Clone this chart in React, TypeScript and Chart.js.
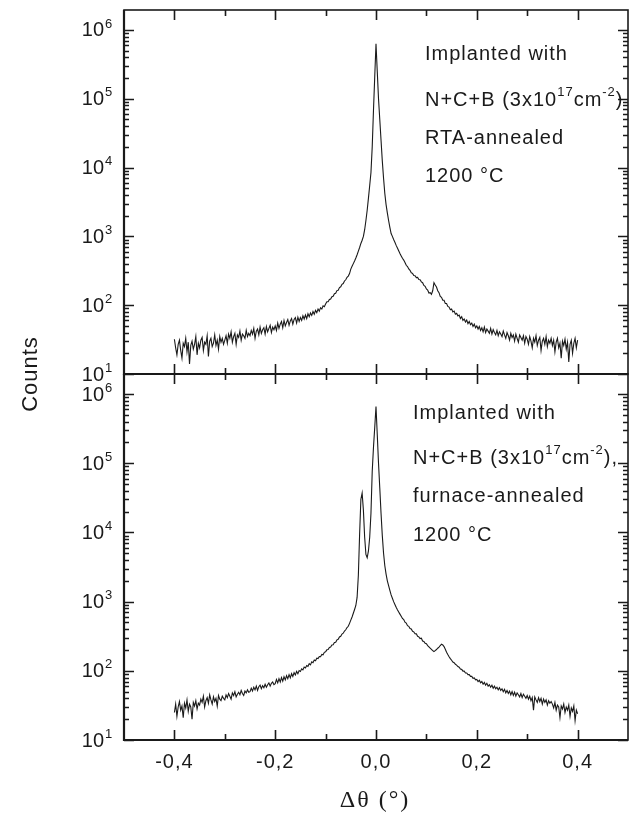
import React, { useEffect, useRef } from "react";
import { Chart, registerables } from "chart.js";
Chart.register(...registerables);

// Δθ scan grid: -0.4° … 0.4°, one reading every 0.0025° (321 readings, 20 per row below)
const thetaStart = -0.4;
const thetaStep = 0.0025;

// Top panel: RTA-annealed (each row = 0.05° of scan)
const countsRTA = [
  32, 24, 19, 27, 31, 22, 17, 28, 25, 33, 21, 29, 14, 26, 30, 23, 27, 35, 19, 28,
  24, 31, 34, 22, 29, 27, 36, 18, 30, 33, 25, 28, 37, 26, 31, 23, 35, 29, 33, 27,
  31, 36, 28, 38, 33, 41, 29, 35, 39, 27, 37, 34, 42, 31, 38, 36, 33, 43, 35, 39,
  36, 43, 38, 46, 33, 42, 45, 37, 48, 39, 44, 47, 38, 49, 41, 46, 51, 40, 48, 44,
  50, 43, 55, 46, 53, 58, 47, 60, 50, 56, 62, 51, 59, 64, 53, 62, 66, 55, 67, 58,
  66, 60, 70, 63, 72, 64, 75, 68, 77, 71, 81, 74, 84, 78, 88, 82, 92, 88, 98, 95,
  104, 112, 112, 121, 123, 133, 135, 147, 149, 163, 165, 180, 185, 201, 206, 225, 234, 254, 265, 288,
  335, 368, 402, 440, 485, 540, 610, 690, 790, 880, 1000, 1250, 1700, 2400, 3600, 5500, 8500, 20000, 68000, 210000,
  630000, 250000, 100000, 50000, 25000, 12500, 7000, 4200, 2900, 2200, 1700, 1350, 1100, 1000, 900, 820, 740, 680, 620, 565,
  520, 480, 452, 418, 380, 364, 336, 322, 296, 290, 270, 268, 252, 254, 236, 234, 218, 212, 194, 188,
  172, 166, 150, 152, 144, 162, 212, 196, 184, 162, 152, 134, 130, 118, 118, 106, 106, 96, 94, 86,
  88, 80, 82, 74, 76, 70, 72, 64, 68, 60, 63, 57, 61, 54, 58, 52, 55, 49, 53, 47,
  50, 45, 49, 43, 47, 41, 48, 40, 45, 42, 39, 46, 38, 44, 40, 37, 43, 36, 41, 38,
  35, 42, 37, 33, 40, 36, 31, 39, 34, 37, 30, 38, 33, 29, 37, 34, 31, 36, 28, 35,
  32, 27, 35, 30, 24, 33, 29, 36, 26, 31, 34, 22, 30, 33, 27, 35, 25, 31, 28, 33,
  26, 31, 21, 29, 33, 24, 28, 17, 30, 26, 32, 23, 29, 15, 27, 31, 20, 28, 33, 24,
  31,
];

// Bottom panel: furnace-annealed
const countsFurnace = [
  25, 33, 22, 30, 36, 27, 31, 21, 34, 29, 38, 26, 33, 30, 20, 35, 31, 37, 28, 34,
  32, 39, 35, 43, 30, 37, 41, 34, 45, 38, 33, 42, 36, 40, 31, 44, 39, 37, 43, 40,
  38, 45, 41, 47, 43, 39, 48, 44, 50, 42, 46, 49, 45, 52, 47, 44, 51, 48, 53, 49,
  50, 56, 51, 58, 53, 60, 52, 59, 62, 55, 61, 57, 64, 58, 63, 67, 60, 66, 69, 63,
  65, 75, 67, 77, 69, 80, 71, 82, 74, 85, 77, 88, 79, 91, 83, 94, 87, 98, 91, 101,
  98, 107, 103, 113, 110, 119, 116, 127, 122, 135, 131, 143, 140, 152, 150, 161, 160, 172, 170, 185,
  188, 201, 203, 218, 220, 236, 238, 256, 259, 280, 286, 308, 316, 340, 350, 376, 392, 422, 440, 485,
  540, 600, 680, 770, 880, 1150, 2400, 9500, 30000, 37000, 21000, 8500, 4800, 4300, 5400, 8500, 19000, 76000, 170000, 330000,
  660000, 260000, 100000, 44000, 19000, 9000, 5000, 3300, 2500, 2000, 1700, 1450, 1250, 1120, 1000, 910, 830, 765, 710, 660,
  615, 570, 550, 505, 490, 450, 440, 408, 402, 372, 366, 344, 342, 316, 310, 292, 296, 270, 266, 250,
  246, 232, 222, 212, 204, 196, 190, 196, 203, 212, 220, 232, 243, 236, 224, 205, 186, 172, 160, 150,
  142, 134, 131, 124, 121, 115, 113, 106, 105, 99, 99, 93, 93, 88, 88, 83, 83, 78, 79, 74,
  75, 70, 73, 67, 70, 64, 68, 62, 66, 60, 63, 58, 62, 56, 60, 55, 58, 53, 57, 52,
  55, 50, 54, 48, 52, 47, 51, 45, 50, 44, 49, 43, 48, 45, 42, 47, 41, 46, 43, 40,
  44, 39, 43, 37, 41, 27, 42, 38, 35, 41, 36, 40, 33, 39, 35, 38, 32, 37, 34, 36,
  33, 29, 35, 27, 32, 30, 21, 31, 28, 33, 25, 30, 27, 32, 22, 29, 26, 31, 19, 27,
  24,
];

const deltaTheta = countsRTA.map((_, i) => +(thetaStart + i * thetaStep).toFixed(4));

const xMajorTicks = [-0.4, -0.2, 0, 0.2, 0.4];
const xMajorLabels = ["-0,4", "-0,2", "0,0", "0,2", "0,4"];
const xMinorTicks = [-0.3, -0.1, 0.1, 0.3];
const yDecades = [10, 100, 1000, 10000, 100000, 1000000];
const yExponents = ["1", "2", "3", "4", "5", "6"];
const xRange = [-0.5, 0.5];
const yRange = [10, 1.95e6];

type Run = { t: string; sup?: boolean };
const notesRTA: Run[][] = [
  [{ t: "Implanted with" }],
  [{ t: "N+C+B (3x10" }, { t: "17", sup: true }, { t: "cm" }, { t: "-2", sup: true }, { t: ")" }],
  [{ t: "RTA-annealed" }],
  [{ t: "1200 °C" }],
];
const notesFurnace: Run[][] = [
  [{ t: "Implanted with" }],
  [{ t: "N+C+B (3x10" }, { t: "17", sup: true }, { t: "cm" }, { t: "-2", sup: true }, { t: ")," }],
  [{ t: "furnace-annealed" }],
  [{ t: "1200 °C" }],
];
const yTitle = "Counts";
const xTitle = "Δθ (°)";

const SANS = "'Liberation Sans', Arial, Helvetica, sans-serif";
const SERIF = "'Liberation Serif', 'Times New Roman', serif";
const INK = "#1a1a1a";

function drawRuns(ctx: CanvasRenderingContext2D, runs: Run[], x: number, y: number) {
  let cx = x;
  ctx.textAlign = "left";
  ctx.textBaseline = "middle";
  for (const r of runs) {
    if (r.sup) {
      ctx.font = `13px ${SANS}`;
      ctx.fillText(r.t, cx, y - 8);
    } else {
      ctx.font = `20px ${SANS}`;
      ctx.fillText(r.t, cx, y);
    }
    cx += ctx.measureText(r.t).width;
  }
}

function makePanelPlugin(notes: Run[][], noteX: number, noteYs: number[], bottomPanel: boolean) {
  return {
    id: "panelDecor",
    afterDraw(chart: any) {
      const ctx: CanvasRenderingContext2D = chart.ctx;
      const a = chart.chartArea;
      const xs = chart.scales.x;
      const ys = chart.scales.y;
      ctx.save();
      ctx.strokeStyle = INK;
      ctx.fillStyle = INK;
      ctx.lineCap = "butt";
      ctx.lineWidth = 1.6;
      ctx.strokeRect(a.left, a.top, a.right - a.left, a.bottom - a.top);
      ctx.lineWidth = 2.2;
      ctx.beginPath();
      ctx.moveTo(a.left, a.top);
      ctx.lineTo(a.left, a.bottom);
      ctx.lineTo(a.right, a.bottom);
      ctx.stroke();
      ctx.lineWidth = 1.6;
      const xt = (v: number, len: number) => {
        const px = Math.round(xs.getPixelForValue(v)) + 0.5;
        ctx.beginPath();
        ctx.moveTo(px, a.bottom);
        ctx.lineTo(px, a.bottom - len);
        ctx.moveTo(px, a.top);
        ctx.lineTo(px, a.top + len);
        ctx.stroke();
      };
      xMajorTicks.forEach((v) => xt(v, 10));
      xMinorTicks.forEach((v) => xt(v, 6));
      ctx.lineWidth = 1.3;
      yDecades.forEach((d) => {
        for (let m = 1; m <= 9; m++) {
          const v = d * m;
          if (v < yRange[0] || v > yRange[1]) continue;
          const py = Math.round(ys.getPixelForValue(v)) + 0.5;
          const len = m === 1 ? 10 : 5;
          ctx.beginPath();
          ctx.moveTo(a.left, py);
          ctx.lineTo(a.left + len, py);
          ctx.moveTo(a.right, py);
          ctx.lineTo(a.right - len, py);
          ctx.stroke();
        }
      });
      yDecades.forEach((d, i) => {
        const py = ys.getPixelForValue(d);
        ctx.textBaseline = "middle";
        ctx.textAlign = "right";
        ctx.font = `20px ${SANS}`;
        ctx.fillText("10", 104, py + 1);
        ctx.textAlign = "left";
        ctx.font = `13px ${SANS}`;
        ctx.fillText(yExponents[i], 105, py - 6);
      });
      (ctx as any).letterSpacing = "1px";
      notes.forEach((runs, i) => drawRuns(ctx, runs, noteX, noteYs[i]));
      (ctx as any).letterSpacing = "0px";
      if (bottomPanel) {
        ctx.font = `20px ${SANS}`;
        ctx.textAlign = "center";
        ctx.textBaseline = "middle";
        (ctx as any).letterSpacing = "1px";
        xMajorTicks.forEach((v, i) => {
          ctx.fillText(xMajorLabels[i], xs.getPixelForValue(v), 762);
        });
        ctx.font = `24px ${SERIF}`;
        (ctx as any).letterSpacing = "2px";
        ctx.fillText(xTitle, 375, 801);
        ctx.save();
        ctx.translate(31, 374);
        ctx.rotate(-Math.PI / 2);
        ctx.font = `22px ${SANS}`;
        (ctx as any).letterSpacing = "1px";
        ctx.fillText(yTitle, 0, 0);
        ctx.restore();
        (ctx as any).letterSpacing = "0px";
      }
      ctx.restore();
    },
  };
}

function makeConfig(values: number[], padTop: number, padBottom: number, plugin: any) {
  return {
    type: "line" as const,
    data: {
      datasets: [
        {
          data: deltaTheta.map((x, i) => ({ x, y: values[i] })),
          borderColor: INK,
          borderWidth: 1.1,
          pointRadius: 0,
          tension: 0,
          fill: false,
        },
      ],
    },
    options: {
      animation: false as const,
      responsive: false,
      devicePixelRatio: 1,
      events: [] as any[],
      layout: { padding: { left: 124, right: 7, top: padTop, bottom: padBottom } },
      scales: {
        x: { type: "linear" as const, min: xRange[0], max: xRange[1], display: false },
        y: { type: "logarithmic" as const, min: yRange[0], max: yRange[1], display: false },
      },
      plugins: { legend: { display: false }, tooltip: { enabled: false }, title: { display: false } },
    },
    plugins: [plugin],
  };
}

export default function App() {
  const topRef = useRef<HTMLCanvasElement>(null);
  const botRef = useRef<HTMLCanvasElement>(null);
  useEffect(() => {
    const c1 = new Chart(
      topRef.current!,
      makeConfig(countsRTA, 10, 822 - 374, makePanelPlugin(notesRTA, 425, [54, 100, 138, 176], false)) as any
    );
    const c2 = new Chart(
      botRef.current!,
      makeConfig(countsFurnace, 374, 822 - 740, makePanelPlugin(notesFurnace, 413, [413, 458, 496, 535], true)) as any
    );
    return () => {
      c1.destroy();
      c2.destroy();
    };
  }, []);
  const cs: React.CSSProperties = { position: "absolute", left: 0, top: 0, width: 635, height: 822 };
  return (
    <div style={{ position: "absolute", left: 0, top: 0, width: 635, height: 822, background: "#fff" }}>
      <canvas ref={topRef} width={635} height={822} style={cs} />
      <canvas ref={botRef} width={635} height={822} style={cs} />
    </div>
  );
}
